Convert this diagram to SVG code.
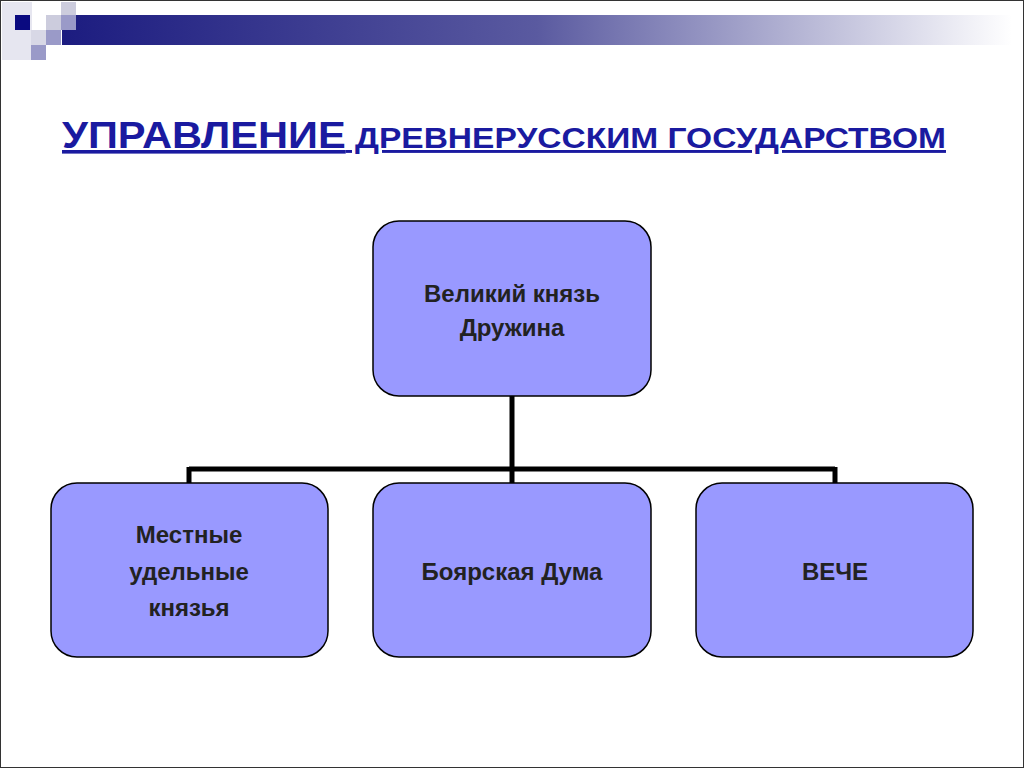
<svg xmlns="http://www.w3.org/2000/svg" width="1024" height="768" viewBox="0 0 1024 768">
<defs>
<linearGradient id="g" x1="0" x2="1"><stop offset="0" stop-color="#1c1c80"/><stop offset="0.5" stop-color="#5a5aa0"/><stop offset="1" stop-color="#fff"/></linearGradient>
<style>
.n{fill:#9999ff;stroke:#000;stroke-width:1.5}
.t{font-family:"Liberation Sans",Arial,sans-serif;font-weight:bold;font-size:24px;fill:#222;text-anchor:middle}
.c{fill:none;stroke:#000;stroke-width:5}
</style>
</defs>
<rect x="0" y="0" width="1024" height="768" fill="#fff" stroke="#333" stroke-width="2"/>
<g id="deco">
<rect x="62" y="15" width="950" height="30" fill="url(#g)"/>
<rect x="2" y="2" width="30" height="58" fill="#e6e6f0"/>
<rect x="15" y="15" width="15" height="15" fill="#0a0a80"/>
<rect x="46" y="15" width="15" height="15" fill="#ccccdd"/>
<rect x="61" y="2" width="15" height="13" fill="#ccccdd"/>
<rect x="61" y="15" width="15" height="15" fill="#9a9ac8"/>
<rect x="31" y="30" width="15" height="15" fill="#d8d8e6"/>
<rect x="46" y="30" width="15" height="15" fill="#9a9ac8"/>
<rect x="31" y="45" width="15" height="15" fill="#9a9ac8"/>
</g>
<g id="title">
<text x="62" y="148" font-family="Liberation Sans,Arial,sans-serif" font-weight="bold" fill="#1a1aa0" text-decoration="underline" textLength="884" lengthAdjust="spacingAndGlyphs"><tspan font-size="36">УПРАВЛЕНИЕ</tspan><tspan font-size="29"> ДРЕВНЕРУССКИМ ГОСУДАРСТВОМ</tspan></text>
</g>
<g id="connectors">
<path class="c" d="M512 396V469M189 469H835M189 467V483M512 467V483M835 467V483"/>
</g>
<g id="n1"><rect class="n" x="373" y="221" width="278" height="175" rx="26"/><text class="t" x="512" y="302">Великий князь</text><text class="t" x="512" y="336">Дружина</text></g>
<g id="n2"><rect class="n" x="51" y="483" width="277" height="174" rx="26"/><text class="t" x="189" y="543">Местные</text><text class="t" x="189" y="580">удельные</text><text class="t" x="189" y="616">князья</text></g>
<g id="n3"><rect class="n" x="373" y="483" width="278" height="174" rx="26"/><text class="t" x="512" y="580">Боярская Дума</text></g>
<g id="n4"><rect class="n" x="696" y="483" width="277" height="174" rx="26"/><text class="t" x="835" y="580">ВЕЧЕ</text></g>
</svg>
